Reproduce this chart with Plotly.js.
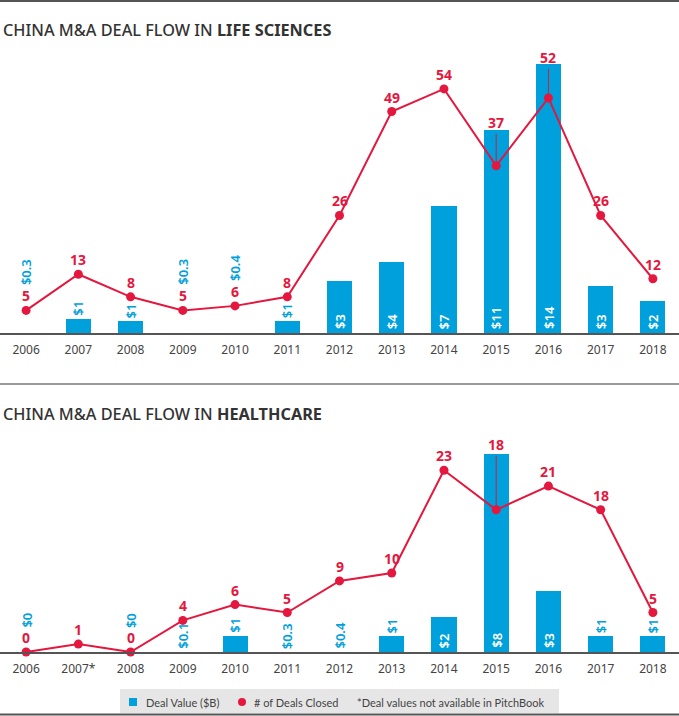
<!DOCTYPE html>
<html><head><meta charset="utf-8">
<script src="https://cdn.plot.ly/plotly-3.0.1.min.js"></script>
<style>html,body{margin:0;padding:0;background:#fff;overflow:hidden}#chart{width:679px;height:716px}</style>
</head><body><div id="chart"></div>
<script>
// ---- data: Life Sciences ----
const lsYears = ['2006','2007','2008','2009','2010','2011','2012','2013','2014','2015','2016','2017','2018'];
const lsDeals = [5,13,8,5,6,8,26,49,54,37,52,26,12];
const lsValueBars = [0,0.74,0.61,0,0,0.61,2.75,3.75,6.7,10.7,14.15,2.5,1.7];
const lsValueLabels = ['$0.3','$1','$1','$0.3','$0.4','$1','$3','$4','$7','$11','$14','$3','$2'];
// ---- data: Healthcare ----
const hcYears = ['2006','2007*','2008','2009','2010','2011','2012','2013','2014','2015','2016','2017','2018'];
const hcDeals = [0,1,0,4,6,5,9,10,23,18,21,18,5];
const hcValueBars = [0,null,0,0,0.64,0,0,0.64,1.4,8.0,2.45,0.64,0.64];
const hcValueLabels = ['$0','','$0','$0.1','$1','$0.3','$0.4','$1','$2','$8','$3','$1','$1'];

// ---- label placement styles ----
const lsLabelInside = [false,false,false,false,false,false,true,true,true,true,true,true,true];
const lsLabelShift  = [46,1,1,46,50,1,2,2,2,2,2,2,2];
const lsLeader      = [0,0,0,0,0,0,0,0,0,43,40,0,0];
const hcLabelInside = [false,false,false,false,false,false,false,false,true,true,true,false,false];
const hcLabelShift  = [22,0,22,1,1,1,1,1,2,2,2,1,1];
const hcLeader      = [0,0,0,0,0,0,0,0,0,65,0,0,0];

const W = 679, H = 716;
const px = x => x / W;
const py = y => 1 - y / H;
const BLUE = '#00a0dc', RED = '#e4173e', TXT = '#444444';
const FONT = '"Noto Sans", "Open Sans", sans-serif';
const LEGFONT = 'Lato, "Noto Sans", sans-serif';

const gTop = {base: 333, top: 45, barPx: 19, linePx: 4.52};
const gBot = {base: 652, top: 440, barPx: 24.7, linePx: 7.9};

function barTrace(x, y, xa, ya) {
  return {type: 'bar', x: x, y: y, xaxis: xa, yaxis: ya, width: 0.48,
    marker: {color: BLUE, line: {width: 0}}, hoverinfo: 'skip', showlegend: false};
}
function lineTrace(x, y, xa, ya) {
  return {type: 'scatter', mode: 'lines+markers', x: x, y: y, xaxis: xa, yaxis: ya,
    line: {color: RED, width: 2}, marker: {color: RED, size: 9}, cliponaxis: false,
    hoverinfo: 'skip', showlegend: false};
}

const data = [
  barTrace(lsYears, lsValueBars, 'x', 'y'),
  lineTrace(lsYears, lsDeals, 'x', 'y2'),
  barTrace(hcYears, hcValueBars, 'x2', 'y3'),
  lineTrace(hcYears, hcDeals, 'x2', 'y4')
];

const annotations = [];
function addLabels(years, bars, labels, inside, shift, deals, leader, xa, yBar, yLine) {
  years.forEach((yr, i) => {
    // category index (year strings look numeric, so use the index)
    if (labels[i]) {
      annotations.push({
        x: i, xref: xa, yref: yBar,
        y: inside[i] ? 0 : (bars[i] || 0),
        yanchor: 'bottom', xanchor: 'center', yshift: shift[i],
        text: labels[i], textangle: -90, showarrow: false,
        font: {family: FONT, size: 13, weight: 600, color: inside[i] ? '#ffffff' : BLUE}
      });
    }
    const a = {
      x: i, y: deals[i], xref: xa, yref: yLine, text: String(deals[i]),
      font: {family: FONT, size: 14, weight: 700, color: RED}
    };
    if (leader[i]) {
      Object.assign(a, {showarrow: true, ax: 0, ay: -leader[i], arrowhead: 0,
        arrowwidth: 1, arrowcolor: '#c8203c', standoff: 4});
    } else {
      Object.assign(a, {showarrow: false, yanchor: 'bottom', yshift: 3});
    }
    annotations.push(a);
  });
}
addLabels(lsYears, lsValueBars, lsValueLabels, lsLabelInside, lsLabelShift, lsDeals, lsLeader, 'x', 'y', 'y2');
addLabels(hcYears, hcValueBars, hcValueLabels, hcLabelInside, hcLabelShift, hcDeals, hcLeader, 'x2', 'y3', 'y4');

// titles
annotations.push({xref: 'paper', yref: 'paper', x: px(1), y: py(30), xanchor: 'left', yanchor: 'middle',
  text: 'CHINA M&A DEAL FLOW IN <b>LIFE SCIENCES</b>', showarrow: false,
  font: {family: FONT, size: 16.3, weight: 500, color: '#333333'}});
annotations.push({xref: 'paper', yref: 'paper', x: px(1), y: py(414), xanchor: 'left', yanchor: 'middle',
  text: 'CHINA M&A DEAL FLOW IN <b>HEALTHCARE</b>', showarrow: false,
  font: {family: FONT, size: 16.3, weight: 500, color: '#333333'}});

// legend texts
const legFont = {family: LEGFONT, size: 11, color: TXT};
[[144, 'Deal Value ($B)'], [252, '# of Deals Closed'], [355, '*Deal values not available in PitchBook']].forEach(([x, t]) => {
  annotations.push({xref: 'paper', yref: 'paper', x: px(x), y: py(702), xanchor: 'left', yanchor: 'middle',
    text: t, showarrow: false, font: legFont});
});

const shapes = [
  {type: 'line', xref: 'paper', yref: 'paper', x0: 0, x1: 1, y0: py(1), y1: py(1), line: {color: '#555555', width: 2}},
  {type: 'line', xref: 'paper', yref: 'paper', x0: 0, x1: 1, y0: py(384), y1: py(384), line: {color: '#9a9a9a', width: 2}},
  {type: 'rect', xref: 'paper', yref: 'paper', x0: px(120), x1: px(559), y0: py(713), y1: py(689), fillcolor: '#e6e6e6', line: {width: 0}},
  {type: 'line', xref: 'paper', yref: 'paper', x0: 0, x1: 1, y0: py(714.5), y1: py(714.5), line: {color: '#555555', width: 2}},
  {type: 'rect', xref: 'paper', yref: 'paper', x0: px(129), x1: px(137), y0: py(706), y1: py(698), fillcolor: BLUE, line: {width: 0}},
  {type: 'circle', xref: 'paper', yref: 'paper', x0: px(238), x1: px(246), y0: py(706), y1: py(698), fillcolor: RED, line: {width: 0}}
];

function xAxis(anchor) {
  return {domain: [0, 1], anchor: anchor, type: 'category', range: [-0.5, 12.5],
    showline: true, linecolor: '#555555', linewidth: 1.5, ticks: '', showgrid: false, zeroline: false,
    ticklabelstandoff: 5,
    tickfont: {family: FONT, size: 12, color: TXT}, fixedrange: true};
}
const layout = {
  width: W, height: H, margin: {l: 0, r: 0, t: 0, b: 0},
  paper_bgcolor: '#ffffff', plot_bgcolor: 'rgba(0,0,0,0)',
  font: {family: FONT, color: TXT},
  showlegend: false, bargap: 0,
  xaxis: xAxis('y'),
  xaxis2: xAxis('y3'),
  yaxis: {domain: [py(gTop.base), py(gTop.top)], range: [0, (gTop.base - gTop.top) / gTop.barPx], visible: false, fixedrange: true},
  yaxis2: {overlaying: 'y', anchor: 'x', range: [0, (gTop.base - gTop.top) / gTop.linePx], visible: false, fixedrange: true},
  yaxis3: {domain: [py(gBot.base), py(gBot.top)], anchor: 'x2', range: [0, (gBot.base - gBot.top) / gBot.barPx], visible: false, fixedrange: true},
  yaxis4: {overlaying: 'y3', anchor: 'x2', range: [0, (gBot.base - gBot.top) / gBot.linePx], visible: false, fixedrange: true},
  annotations: annotations,
  shapes: shapes
};
Plotly.newPlot('chart', data, layout, {displayModeBar: false, staticPlot: true});
</script>
</body></html>
